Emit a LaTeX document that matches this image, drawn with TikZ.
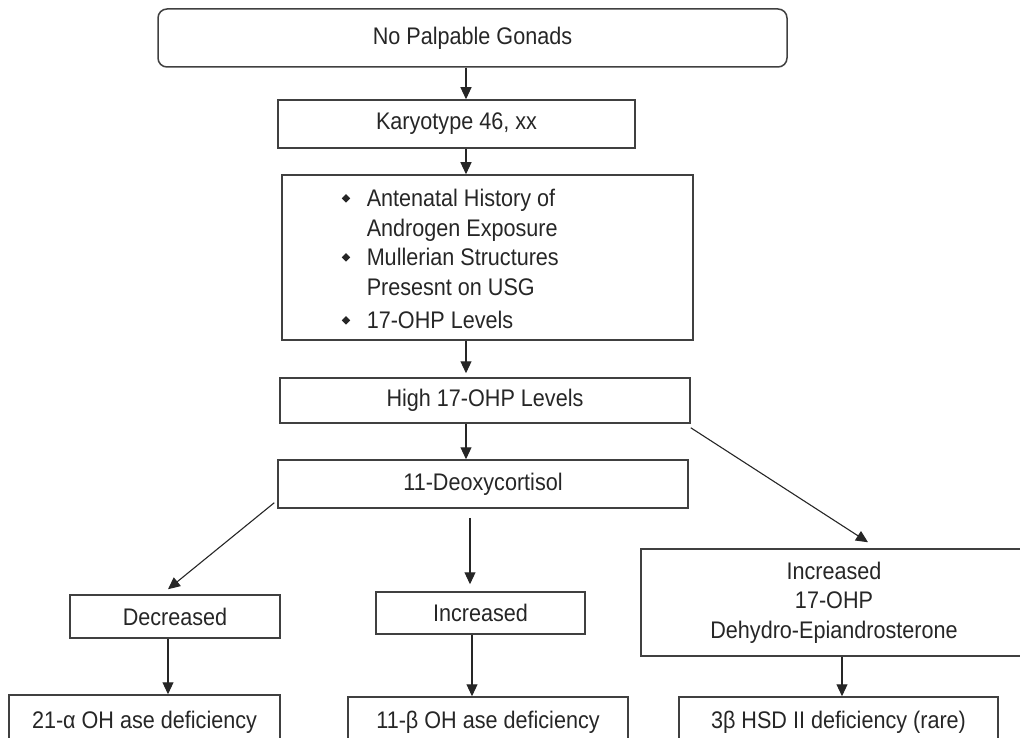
\documentclass[tikz,border=0pt]{standalone}
\usepackage{fontspec}
\setmainfont[FakeStretch=0.9]{Liberation Sans}
\usetikzlibrary{calc,arrows.meta}

% small diamond bullet, then the indent for a second line
\newcommand{\bul}{\makebox[25pt][l]{\raisebox{4pt}{\rotatebox{45}{\rule{6pt}{6pt}}}}}
\newcommand{\bulskip}{\makebox[25pt]{}}

\begin{document}
\begin{tikzpicture}[x=1pt,y=-1pt,
    box/.style={draw=black!75,line width=1.5pt,text=black!85,inner sep=0pt,
        font=\fontsize{24}{29.5}\selectfont},
    arrow/.style={-{Triangle[length=12pt,width=11pt]},line width=1.1pt,draw=black!85}]
                \useasboundingbox (0,0) rectangle (1020,738);
                \coordinate (spine) at (466,0);
                % \coordinate (spine) at (472,0);
                \node[box,rounded corners=9pt,minimum width=629pt,minimum height=58pt] (gonads) at (472.5,38) {No Palpable Gonads};
                \node[box,minimum width=357pt,minimum height=48pt] (karyo) at (456.5,124) {Karyotype 46, xx};
                \node[box,minimum width=411pt,minimum height=165pt] (hist) at (487.5,257.5) {};
                \node[box,draw=none,align=left,anchor=west] (histtext) at (341,259) {\bul Antenatal History of\\
                    \bulskip Androgen Exposure\\
                    \bul Mullerian Structures\\
                    \bulskip Presesnt on USG\\[4pt]
                    \bul 17-OHP Levels};
                \node[box,minimum width=410pt,minimum height=45pt] (high) at (485,400.5) {High 17-OHP Levels};
                \node[box,minimum width=410pt,minimum height=48pt] (deoxy) at (483,484) {11-Deoxycortisol};
                \node[box,minimum width=210pt,minimum height=43pt] (decr) at (175,616.5) {Decreased};
                \node[box,minimum width=209pt,minimum height=42pt] (incr) at (480.5,613) {Increased};
                \node[box,align=center,minimum width=386pt,minimum height=107pt] (dhea) at (834,602.5) {Increased\\17-OHP\\Dehydro-Epiandrosterone};
                \node[box,minimum width=271pt,minimum height=54pt] (def21) at (144.5,722) {21-α OH ase deficiency};
                \node[box,minimum width=280pt,minimum height=50pt] (def11) at (488,722) {11-β OH ase deficiency};
                \node[box,minimum width=319pt,minimum height=50pt] (def3b) at (838.5,722) {3β HSD II deficiency (rare)};
                % main line down
                \draw[arrow] (gonads.south -| spine) -- (karyo.north -| spine);
                \draw[arrow] (karyo.south -| spine) -- (hist.north -| spine);
                \draw[arrow,shorten >=4pt] (hist.south -| spine) -- (high.north -| spine);
                \draw[arrow] (high.south -| spine) -- (deoxy.north -| spine);
                % branches
                \draw[arrow] ([yshift=-4pt]high.south east) -- ([shift={(34pt,6pt)}]dhea.north);
                \draw[arrow] ([shift={(-3pt,6pt)}]deoxy.south west) -- ([shift={(-7pt,5pt)}]decr.north);
                \draw[arrow,shorten <=9pt,shorten >=7pt] ([xshift=-13pt]deoxy.south) -- ([xshift=-10.5pt]incr.north);
                \draw[arrow] ([xshift=-7pt]decr.south) -- ([xshift=-7pt]decr.south |- def21.north);
                \draw[arrow] ([xshift=-8.5pt]incr.south) -- ([xshift=-8.5pt]incr.south |- def11.north);
                \draw[arrow] ([xshift=8pt]dhea.south) -- ([xshift=8pt]dhea.south |- def3b.north);
            \end{tikzpicture}
\end{document}
